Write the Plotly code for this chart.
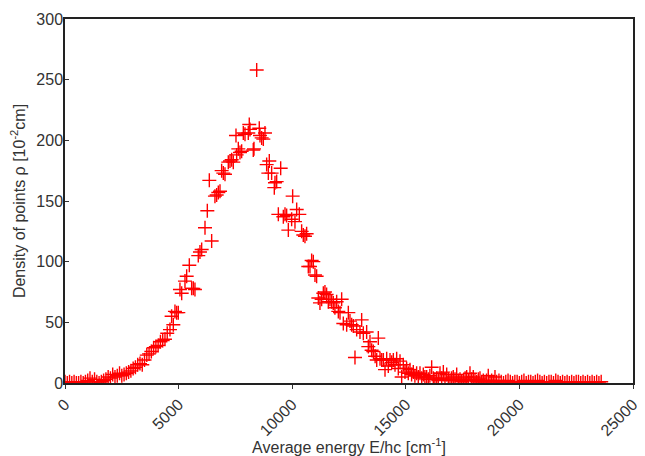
import plotly.graph_objects as go

# average energy E/hc [cm^-1] of each point
energy = [0, 100, 200, 300, 400, 500, 600, 700, 800, 900, 1000, 1100, 1200, 1300, 1400,
          1500, 1600, 1700, 1800, 1900, 2000, 2100, 2200, 2300, 2400, 2500, 2600, 2700,
          2800, 2900, 3000, 3100, 3200, 3300, 3400, 3500, 3600, 3700, 3800, 3900, 4000,
          4100, 4200, 4300, 4400, 4500, 4620, 4693, 4767, 4840, 4914, 4987, 5060, 5136,
          5281, 5355, 5472, 5575, 5647, 5720, 5866, 5940, 6015, 6162, 6264, 6352, 6455,
          6600, 6675, 6748, 6822, 6895, 6968, 7042, 7187, 7262, 7336, 7407, 7526, 7556,
          7628, 7702, 7775, 7848, 7922, 8067, 8111, 8142, 8287, 8318, 8437, 8551, 8582,
          8656, 8729, 8802, 8876, 8950, 8992, 9095, 9212, 9242, 9316, 9390, 9493, 9610,
          9683, 9756, 9830, 9976, 10020, 10122, 10197, 10313, 10416, 10488, 10562, 10635,
          10708, 10782, 10856, 10929, 11002, 11075, 11150, 11222, 11296, 11370, 11442,
          11515, 11590, 11663, 11736, 11808, 11880, 11957, 12030, 12104, 12177, 12250,
          12397, 12470, 12543, 12617, 12690, 12763, 12837, 12983, 13057, 13130, 13277,
          13350, 13423, 13497, 13570, 13650, 13720, 13790, 13865, 13940, 14012, 14085,
          14159, 14230, 14306, 14380, 14451, 14525, 14598, 14670, 14745, 14818, 14890,
          14965, 15037, 15110, 15185, 15255, 15330, 15400, 15477, 15550, 15624, 15700,
          15770, 15840, 15918, 15990, 16060, 16138, 16212, 16280, 16359, 16430, 16505,
          16580, 16652, 16725, 16800, 16870, 16945, 17020, 17090, 17165, 17240, 17310,
          17385, 17460, 17535, 17610, 17680, 17755, 17825, 17900, 17970, 18045, 18120,
          18190, 18265, 18340, 18410, 18485, 18555, 18630, 18705, 18780, 18850, 18925,
          19000, 19100, 19200, 19300, 19400, 19500, 19600, 19700, 19800, 19900, 20000,
          20100, 20200, 20300, 20400, 20500, 20600, 20700, 20800, 20900, 21000, 21100,
          21200, 21300, 21400, 21500, 21600, 21700, 21800, 21900, 22000, 22100, 22200,
          22300, 22400, 22500, 22600, 22700, 22800, 22900, 23000, 23100, 23200, 23300,
          23400, 23500, 23600]

# density of points rho [10^-2 cm]
density = [1, 0, 1, 0, 1, 0, 0, 1, 0, 1, 2, 4, 1, 3, 1,
           0, 1, 2, 3, 5, 4, 7, 5, 6, 8, 6, 7, 8,
           9, 10, 12, 13, 15, 16, 15, 19, 23, 24, 26, 29, 30,
           31, 34, 35, 36, 41, 44, 55, 48, 59, 58, 58, 77, 74,
           84, 88, 97, 78, 78, 77, 105, 108, 110, 128, 142, 167, 117,
           154, 155, 157, 158, 175, 173, 172, 182, 183, 184, 182, 204, 188,
           193, 190, 191, 206, 205, 206, 213, 209, 192, 193, 258, 210, 204,
           202, 201, 206, 180, 173, 183, 173, 161, 165, 166, 139, 177, 137,
           139, 138, 126, 135, 154, 133, 143, 139, 125, 122, 121, 123,
           96, 96, 101, 100, 89, 88, 70, 66, 69, 74, 75,
           73, 67, 69, 67, 66, 62, 67, 59, 58, 69, 49,
           48, 58, 51, 48, 47, 21, 44, 42, 52, 41, 42,
           30, 34, 27, 26, 22, 19, 37, 20, 19, 19, 11,
           20, 14, 19, 17, 19, 15, 20, 12, 18, 5, 15,
           9, 12, 8, 11, 7, 9, 6, 8, 5, 8, 4,
           7, 5, 5, 3, 6, 13, 4, 3, 4, 2, 8,
           4, 9, 3, 7, 3, 2, 4, 5, 3, 7, 2,
           3, 1, 2, 4, 5, 2, 8, 3, 5, 2, 1,
           3, 4, 1, 2, 1, 2, 6, 1, 2, 1, 5,
           1, 2, 1, 0, 1, 2, 1, 0, 1, 1, 0,
           1, 2, 0, 1, 1, 0, 1, 2, 1, 0, 1,
           0, 1, 1, 0, 2, 1, 0, 1, 0, 1, 0,
           1, 0, 1, 1, 0, 1, 0, 1, 0, 1, 0,
           1, 0, 1]

x_ticks = [0, 5000, 10000, 15000, 20000, 25000]
y_ticks = [0, 50, 100, 150, 200, 250, 300]

fig = go.Figure()
fig.add_trace(go.Scatter(
    x=energy, y=density, mode="markers",
    marker=dict(symbol="cross-thin", size=10,
                line=dict(color="#ff0000", width=1.4)),
    showlegend=False,
))

font = dict(family="Liberation Sans, Arial, sans-serif", size=16, color="#333333")

# the page body has an 8px margin, so the figure is sized to fill the rest
fig.update_layout(
    width=637, height=448,
    margin=dict(l=57, r=12, t=11, b=73),
    plot_bgcolor="white", paper_bgcolor="white",
    font=font,
)
fig.update_xaxes(
    range=[0, 25000], tickvals=x_ticks, ticktext=[str(v) for v in x_ticks],
    tickangle=-45, ticks="outside", ticklen=4, tickcolor="#333333",
    showline=True, linecolor="#222222", linewidth=1.5, mirror=True,
    showgrid=False, zeroline=False, automargin=False,
    title=dict(text="Average energy E/hc [cm<sup>-1</sup>]", standoff=2,
               font=dict(size=16)),
)
fig.update_yaxes(
    range=[0, 300], tickvals=y_ticks,
    ticks="inside", ticklen=4, tickcolor="#333333",
    showline=True, linecolor="#222222", linewidth=1.5, mirror=True,
    showgrid=False, zeroline=False, ticklabelstandoff=-3, automargin=False,
    title=dict(text="Density of points \u03c1 [10<sup>-2</sup>cm]", standoff=10,
               font=dict(size=16)),
)

fig.write_html("out.html")
